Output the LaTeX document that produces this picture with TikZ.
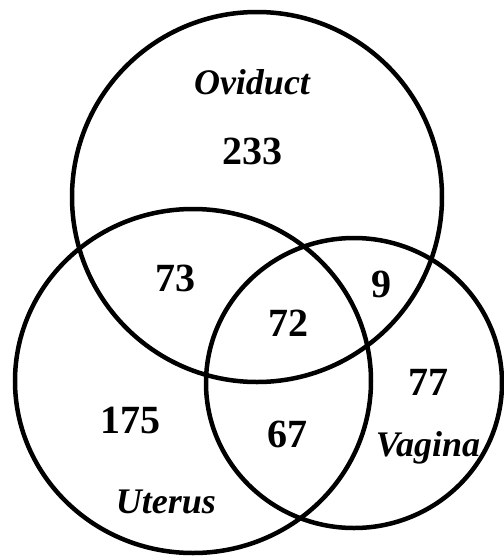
\documentclass[tikz,border=0pt]{standalone}
\usepackage{fontspec}
\setmainfont{Liberation Serif}
\begin{document}
\begin{tikzpicture}[x=1pt,y=-1pt,
  ring/.style={draw=black,line width=4.5pt},
  num/.style={font=\fontsize{40}{40}\selectfont\bfseries,inner sep=0pt},
  lab/.style={font=\fontsize{36}{36}\selectfont\bfseries\itshape,inner sep=0pt}]
\useasboundingbox[fill=white] (0,0) rectangle (504,558);
\draw[ring] (257,197) ellipse [x radius=185, y radius=185];
\draw[ring] (193,381) ellipse [x radius=178, y radius=172];
\draw[ring] (354,383) ellipse [x radius=148, y radius=145];
\node[lab] (ovi) at (252,82) {Oviduct};
\node[num] (n233) at (252,151) {233};
\node[num] (n73) at (175,278) {73};
\node[num] (n9) at (381,284) {9};
\node[num] (n72) at (288,323) {72};
\node[num] (n77) at (428,382) {77};
\node[num] (n175) at (130,420) {175};
\node[num] (n67) at (287,434) {67};
\node[lab] (vag) at (428,448) {Vagina};
\node[lab] (ute) at (166,502) {Uterus};
\end{tikzpicture}
\end{document}
